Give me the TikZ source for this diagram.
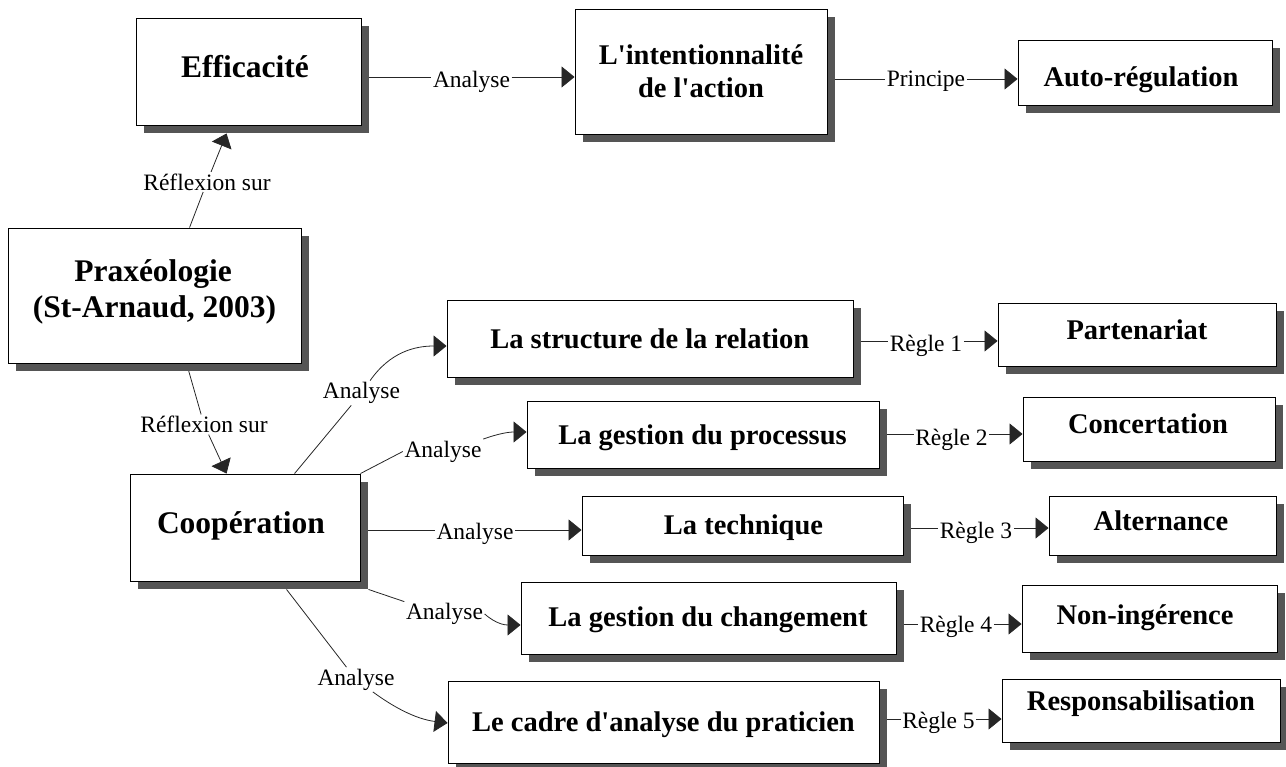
\documentclass[tikz,border=0pt]{standalone}
\usepackage{fontspec}
\setmainfont{Liberation Serif}[Ligatures=TeXOff]
\usetikzlibrary{arrows.meta,shadows,calc,backgrounds}
\definecolor{shadowc}{RGB}{85,85,85}
\tikzset{
 box/.style={draw=black, line width=0.9pt, fill=white, inner sep=0pt,
   drop shadow={shadow xshift=8pt, shadow yshift=-8pt, fill=shadowc, opacity=1}},
 tA/.style={font=\fontsize{31.5}{36}\selectfont\bfseries, inner sep=0pt, anchor=base},
 tB/.style={font=\fontsize{28.5}{33}\selectfont\bfseries, inner sep=0pt, anchor=base},
 lab/.style={font=\fontsize{23.5}{26}\selectfont, inner sep=1.5pt},
 ln/.style={draw=black!85, line width=0.8pt},
 arr/.style={ln, -{Triangle[length=13pt,width=21pt]}},
}
\newcommand{\mybox}[5]{\node[box, minimum width=#4pt, minimum height=#5pt] (#1) at (#2,#3) {};}
\begin{document}
\begin{tikzpicture}[x=1pt,y=-1pt]
\useasboundingbox (0,0) rectangle (1286,767);
% boxes
\mybox{eff}{248.5}{71.5}{225}{107}
\node[tA] (efft) at (245,77.3) {Efficacité};
\mybox{int}{701}{71.5}{252}{125}
\node[tB] (int1) at (701,65) {L'intentionnalité};
\node[tB] (int2) at (701,98) {de l'action};
\mybox{auto}{1145}{72.5}{254}{65}
\node[tB] (autot) at (1141,87) {Auto-régulation};
\mybox{prax}{154.5}{295.5}{293}{135}
\node[tA] (prax1) at (153,282) {Praxéologie};
\node[tA] (prax2) at (154.5,318) {(St-Arnaud, 2003)};
\mybox{coop}{245}{527.5}{230}{107}
\node[tA] (coopt) at (241,533) {Coopération};
\mybox{struct}{650}{338.5}{406}{77}
\node[tB] (structt) at (649.7,348.3) {La structure de la relation};
\mybox{proc}{703}{434.5}{352}{67}
\node[tB] (proct) at (702.5,445) {La gestion du processus};
\mybox{tech}{742.5}{525.5}{321}{59}
\node[tB] (techt) at (743.5,534) {La technique};
\mybox{chang}{708.5}{618}{375}{72}
\node[tB] (changt) at (708,626.7) {La gestion du changement};
\mybox{cadre}{663.5}{722}{431}{82}
\node[tB] (cadret) at (663.5,731.7) {Le cadre d'analyse du praticien};
\mybox{part}{1137}{334.5}{278}{63}
\node[tB] (partt) at (1137,340) {Partenariat};
\mybox{conc}{1149}{429}{252}{64}
\node[tB] (conct) at (1148,434) {Concertation};
\mybox{alt}{1162.5}{525.5}{227}{59}
\node[tB] (altt) at (1161,530.7) {Alternance};
\mybox{noning}{1149.5}{618.5}{255}{67}
\node[tB] (noningt) at (1145,624) {Non-ingérence};
\mybox{resp}{1141}{710.5}{278}{63}
\node[tB] (respt) at (1141,710) {Responsabilisation};
% labels
\coordinate (l1) at (471.5,77);
\node[lab] (an1) at (471.5,81.5) {Analyse};
\coordinate (l2) at (926,79);
\node[lab] (pr) at (926,81) {Principe};
\node[lab] (rf1) at (207,182) {Réflexion sur};
\node[lab] (rf2) at (204,424.5) {Réflexion sur};
\node[lab] (as1) at (361.5,393) {Analyse};
\node[lab] (as2) at (443,451.5) {Analyse};
\coordinate (l3) at (475,530);
\node[lab] (as3) at (475,533.5) {Analyse};
\node[lab] (as4) at (444.5,614) {Analyse};
\node[lab] (as5) at (356,679.5) {Analyse};
\coordinate (r1) at (926,341);   \node[lab] (rg1) at (926,346) {Règle 1};
\coordinate (r2) at (951.5,434); \node[lab] (rg2) at (951.5,439.5) {Règle 2};
\coordinate (r3) at (976,528);   \node[lab] (rg3) at (976,532.5) {Règle 3};
\coordinate (r4) at (956,624);   \node[lab] (rg4) at (956,626.5) {Règle 4};
\coordinate (r5) at (938.5,719); \node[lab] (rg5) at (938.5,722.5) {Règle 5};
% connectors
\begin{scope}[on background layer]
\draw[ln] (eff.east |- l1) -- (an1.west |- l1);
\draw[arr] (an1.east |- l1) -- (int.west |- l1);
\draw[ln] (int.east |- l2) -- (pr.west |- l2);
\draw[arr] (pr.east |- l2) -- (auto.west |- l2);
\draw[ln] ($(prax.north west)+(182,0)$) -- (rf1);
\draw[arr] (rf1) -- ($(eff.south west)+(91,8)$);
\draw[ln] ($(prax.south west)+(179,0)$) -- (rf2);
\draw[arr] (rf2) -- ($(coop.north west)+(97,0)$);
\draw[ln] ($(coop.north west)+(165,0)$) -- (as1);
\draw[arr] (as1) .. controls (390,352) and (415,346) .. ($(struct.west)+(0,7.5)$);
\draw[ln] (coop.north east) -- (as2.west);
\draw[arr] (as2.north east) .. controls (500,433) and (510,432) .. ($(proc.west)+(0,-2.5)$);
\draw[ln] (coop.east |- l3) -- (as3.west |- l3);
\draw[arr] (as3.east |- l3) -- (tech.west |- l3);
\draw[ln] ($(coop.south east)+(8,8)$) -- (as4.north west);
\draw[arr] (as4.east) .. controls (496,624) and (505,625) .. ($(chang.west)+(0,7)$);
\draw[ln] ($(coop.south west)+(157,8)$) -- (as5);
\draw[arr] (as5) .. controls (392,706) and (415,719) .. ($(cadre.west)+(0,1)$);
\draw[ln] (struct.east |- r1) -- (rg1.west |- r1);
\draw[arr] (rg1.east |- r1) -- (part.west |- r1);
\draw[ln] (proc.east |- r2) -- (rg2.west |- r2);
\draw[arr] (rg2.east |- r2) -- (conc.west |- r2);
\draw[ln] (tech.east |- r3) -- (rg3.west |- r3);
\draw[arr] (rg3.east |- r3) -- (alt.west |- r3);
\draw[ln] (chang.east |- r4) -- (rg4.west |- r4);
\draw[arr] (rg4.east |- r4) -- (noning.west |- r4);
\draw[ln] (cadre.east |- r5) -- (rg5.west |- r5);
\draw[arr] (rg5.east |- r5) -- (resp.west |- r5);
\end{scope}
\end{tikzpicture}
\end{document}
